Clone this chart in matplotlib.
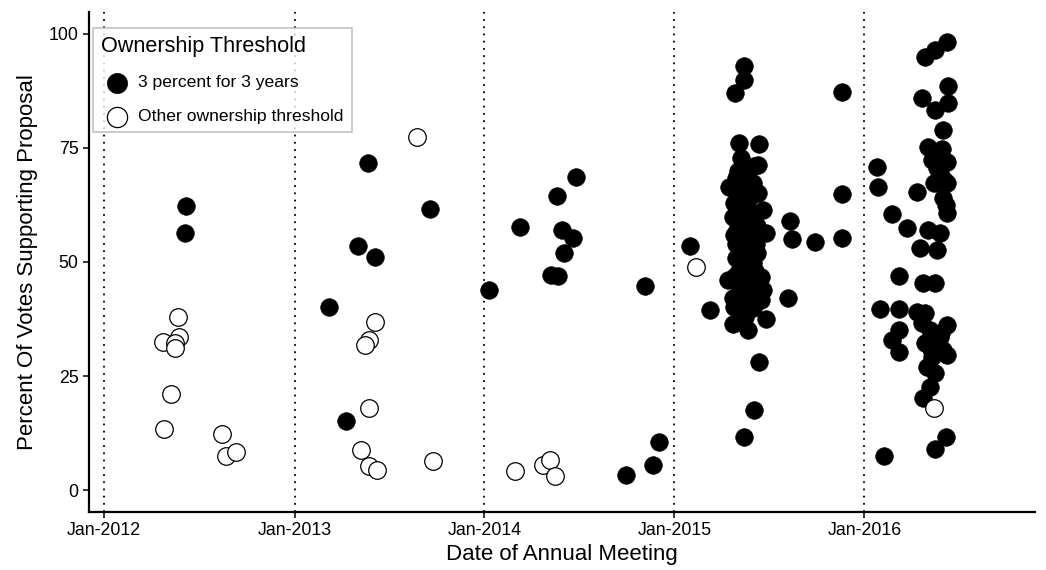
import pandas as pd
import matplotlib.pyplot as plt
import matplotlib.dates as mdates

plt.rcParams['font.family'] = ['Liberation Sans', 'DejaVu Sans']

# 3 percent for 3 years
three_dates = [
    '2012-06-07', '2012-06-04',
    '2013-05-23', '2013-09-19', '2013-05-03', '2013-06-04', '2013-03-08', '2013-04-10',
    '2014-06-26', '2014-05-21', '2014-03-11', '2014-05-30', '2014-06-20', '2014-06-03',
    '2014-05-09', '2014-05-23', '2014-01-10', '2014-11-05', '2014-12-03', '2014-11-20',
    '2014-09-30',
    '2015-01-31', '2015-03-10', '2015-05-15', '2015-05-15', '2015-04-28', '2015-11-19',
    '2015-11-19', '2015-11-19', '2015-09-28', '2015-08-15', '2015-08-11', '2015-08-08',
    '2015-06-12', '2015-06-03', '2015-05-14', '2015-04-23', '2015-05-22', '2015-06-26',
    '2015-05-05', '2015-06-13', '2015-05-09', '2015-06-11', '2015-04-16', '2015-06-01',
    '2015-06-11', '2015-04-25', '2015-06-20', '2015-04-23', '2015-06-26', '2015-04-25',
    '2015-04-29', '2015-06-01', '2015-04-14', '2015-06-16', '2015-06-20', '2015-04-23',
    '2015-06-16', '2015-04-25', '2015-05-18', '2015-05-12', '2015-05-24', '2015-05-05',
    '2015-05-16', '2015-06-01', '2015-05-09', '2015-05-24', '2015-05-16', '2015-06-06',
    '2015-05-05', '2015-05-24', '2015-05-12', '2015-05-18', '2015-05-05', '2015-05-28',
    '2015-05-12', '2015-06-06', '2015-05-18', '2015-06-01', '2015-05-05', '2015-06-08',
    '2015-05-12', '2015-04-29',
    '2015-05-01', '2015-05-20', '2015-05-30', '2015-06-04', '2015-05-08', '2015-04-27',
    '2015-05-22', '2015-05-14', '2015-06-09', '2015-05-26', '2015-05-03', '2015-06-03',
    '2015-05-10', '2015-05-27', '2015-04-30', '2015-06-07', '2015-05-17', '2015-05-02',
    '2016-01-25', '2016-01-27', '2016-02-23', '2016-03-23', '2016-03-07', '2016-01-31',
    '2016-03-07', '2016-03-07', '2016-02-23', '2016-03-08', '2016-02-08',
    '2016-06-07', '2016-05-16', '2016-04-27', '2016-06-09', '2016-04-20', '2016-06-10',
    '2016-05-16', '2016-06-01', '2016-05-03', '2016-05-29', '2016-06-08', '2016-05-10',
    '2016-05-26', '2016-04-11', '2016-06-07', '2016-05-13', '2016-06-06', '2016-06-08',
    '2016-05-26', '2016-05-03', '2016-04-17', '2016-05-19', '2016-04-23', '2016-05-16',
    '2016-04-11', '2016-04-27', '2016-06-07', '2016-04-20', '2016-05-13', '2016-04-27',
    '2016-06-01', '2016-05-10', '2016-06-07', '2016-04-30', '2016-05-16', '2016-05-06',
    '2016-04-23', '2016-06-06', '2016-05-16', '2016-05-22', '2016-06-02', '2016-05-06',
    '2016-05-26', '2016-05-20', '2016-05-31', '2016-05-09', '2016-05-28',
]
three_votes = [
    62.3, 56.3,
    71.6, 61.6, 53.4, 51.1, 40.1, 15.2,
    68.7, 64.5, 57.7, 57.0, 55.3, 51.9,
    47.1, 47.0, 43.9, 44.8, 10.5, 5.5,
    3.3,
    53.6, 39.5, 93.0, 89.9, 87.0, 87.2,
    64.8, 55.2, 54.3, 55.0, 59.0, 42.0,
    28.0, 17.5, 11.7, 36.5, 35.1, 37.6,
    76.0, 75.8, 72.8, 71.3, 66.5, 67.3,
    65.1, 62.9, 61.4, 59.9, 56.3, 55.9,
    50.8, 49.7, 46.1, 46.8, 43.9, 42.0,
    41.7, 40.2, 70.0, 68.0, 64.0, 63.0,
    61.0, 60.0, 58.0, 57.0, 55.0, 54.0,
    53.0, 52.0, 50.0, 47.0, 45.0, 44.0,
    43.0, 45.0, 41.0, 40.0, 48.0, 58.0,
    65.0, 68.5,
    57.0, 62.0, 56.0, 48.0, 51.0, 47.0,
    43.0, 39.0, 52.0, 66.0, 70.0, 71.0,
    48.5, 50.5, 54.0, 42.5, 38.0, 61.0,
    70.9, 66.5, 60.5, 57.5, 46.9, 39.6,
    39.8, 35.1, 32.9, 30.3, 7.5,
    98.3, 96.5, 95.0, 88.6, 85.9, 84.9,
    83.3, 78.9, 75.3, 74.7, 72.0, 72.4,
    69.4, 65.4, 67.3, 67.3, 62.5, 60.7,
    56.3, 57.0, 53.0, 52.6, 45.5, 45.3,
    39.1, 38.8, 36.2, 36.6, 33.6, 32.2,
    30.7, 29.2, 29.6, 27.0, 25.6, 22.7,
    20.1, 11.7, 9.1, 71.0, 68.0, 35.0,
    33.5, 70.5, 64.0, 31.0, 34.5,
]

# Other ownership threshold
other_dates = [
    '2012-05-22', '2012-05-23', '2012-04-23', '2012-05-16', '2012-05-17', '2012-05-09',
    '2012-04-26', '2012-08-14', '2012-08-22', '2012-09-11',
    '2013-08-24', '2013-06-04', '2013-05-25', '2013-05-16', '2013-05-24', '2013-05-09',
    '2013-05-25', '2013-06-08', '2013-09-24',
    '2014-03-01', '2014-04-24', '2014-05-07', '2014-05-17',
    '2015-02-11', '2016-05-13',
]
other_votes = [
    37.9, 33.6, 32.5, 32.2, 31.1, 21.1,
    13.5, 12.2, 7.5, 8.3,
    77.3, 36.9, 33.0, 31.8, 18.1, 8.8,
    5.3, 4.4, 6.4,
    4.2, 5.5, 6.6, 3.1,
    49.0, 17.9,
]

year_starts = ['2012-01-01', '2013-01-01', '2014-01-01', '2015-01-01', '2016-01-01']
y_ticks = [0, 25, 50, 75, 100]

fig = plt.figure(figsize=(10.46, 5.70), dpi=100)
ax = fig.add_axes([89 / 1046, 1 - 512 / 570, (1035 - 89) / 1046, (512 - 12) / 570])

for d in pd.to_datetime(year_starts):
    ax.axvline(d, color='black', linestyle=(0, (1, 3)), linewidth=1.3, zorder=1)

ax.scatter(pd.to_datetime(three_dates), three_votes, s=160, color='black',
           edgecolors='black', linewidths=0.5, label='3 percent for 3 years', zorder=3)
ax.scatter(pd.to_datetime(other_dates), other_votes, s=160, color='white',
           edgecolors='black', linewidths=0.9, label='Other ownership threshold', zorder=3)

ax.set_xlim(pd.Timestamp('2011-12-03'), pd.Timestamp('2016-11-24'))
ax.set_ylim(-4.8, 104.8)
ax.set_xticks(pd.to_datetime(year_starts))
ax.xaxis.set_major_formatter(mdates.DateFormatter('%b-%Y'))
ax.set_yticks(y_ticks)
ax.tick_params(labelsize=12.8, length=4, width=1.1, color='black', labelcolor='black')

for side in ['top', 'right']:
    ax.spines[side].set_visible(False)
for side in ['left', 'bottom']:
    ax.spines[side].set_linewidth(1.6)

ax.set_xlabel('Date of Annual Meeting', fontsize=16, labelpad=3)
ax.set_ylabel('Percent Of Votes Supporting Proposal', fontsize=16, labelpad=8)

leg = ax.legend(title='Ownership Threshold', loc='upper left',
                bbox_to_anchor=(93 / 1046, 1 - 28 / 570), bbox_transform=fig.transFigure,
                borderaxespad=0, fontsize=12.6, title_fontsize=15.6, frameon=True,
                fancybox=False, edgecolor='#b3b3b3', alignment='left',
                handlelength=1.8, handletextpad=0.35, labelspacing=1.05,
                borderpad=0.45, markerscale=1.15)
leg.get_frame().set_linewidth(1.2)

plt.savefig('out.png', dpi=100)
